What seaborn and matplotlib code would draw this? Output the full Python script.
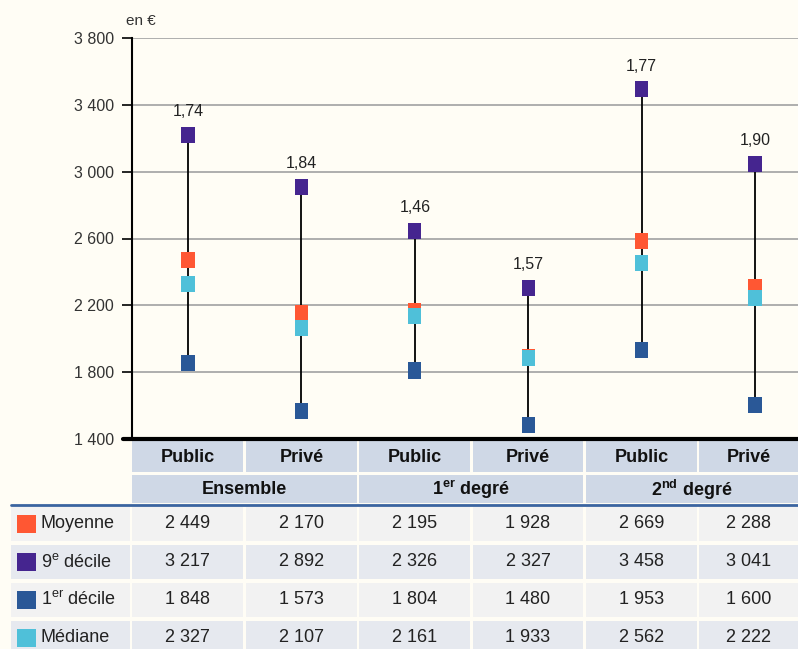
import matplotlib
matplotlib.use("Agg")
import matplotlib.pyplot as plt
import seaborn as sns
import pandas as pd
from matplotlib.patches import Rectangle

# ---- data ----
groups = ["Ensemble", "1$^{\\mathbf{er}}$ degré", "2$^{\\mathbf{nd}}$ degré"]
sectors = ["Public", "Privé", "Public", "Privé", "Public", "Privé"]
series = ["Moyenne", "9$^{\\mathrm{e}}$ décile", "1$^{\\mathrm{er}}$ décile", "Médiane"]

# table values (as printed under the chart)
moyenne = [2449, 2170, 2195, 1928, 2669, 2288]
decile9 = [3217, 2892, 2326, 2327, 3458, 3041]
decile1 = [1848, 1573, 1804, 1480, 1953, 1600]
mediane = [2327, 2107, 2161, 1933, 2562, 2222]

# positions as drawn in the chart (they differ a little from the table)
moyenne_plot = [2473, 2153, 2168, 1889, 2587, 2310]
decile9_plot = [3221, 2910, 2647, 2306, 3496, 3048]
decile1_plot = [1857, 1570, 1810, 1486, 1935, 1606]
mediane_plot = [2330, 2066, 2138, 1887, 2455, 2246]
ratios = ["1,74", "1,84", "1,46", "1,57", "1,77", "1,90"]
yticks = [1400, 1800, 2200, 2600, 3000, 3400, 3800]

colors = {"Moyenne": "#FF5733", "9e": "#45258F", "1er": "#2A5897", "Médiane": "#4FC0D9"}
BG = "#FFFDF5"
HEAD = "#CFD8E6"
ROW_A = "#F2F2F2"
ROW_B = "#E6E9EF"

sns.set_theme(style="white")
plt.rcParams["font.family"] = ["Liberation Sans", "DejaVu Sans"]
plt.rcParams["mathtext.fontset"] = "custom"
plt.rcParams["mathtext.rm"] = "Liberation Sans"
plt.rcParams["mathtext.bf"] = "Liberation Sans:bold"

W, H = 798, 649
fig = plt.figure(figsize=(W / 100, H / 100), dpi=100, facecolor=BG)


def fx(px):
    return px / W


def fy(py):
    return 1 - py / H


def fmt(v):
    return f"{v:,}".replace(",", " ")


# ---- chart axes ----
ax = fig.add_axes([fx(132), fy(439), fx(798 - 132), (439 - 38) / H])
ax.set_facecolor(BG)
x = list(range(6))
ax.set_xlim(-0.494, 5.379)
ax.set_ylim(1400, 3800)

for y in yticks[1:]:
    ax.axhline(y, color="#A8A8A8", lw=1.3, zorder=0)

ax.vlines(x, decile1_plot, decile9_plot, color="black", lw=1.3, zorder=1)

df = pd.DataFrame({
    "x": x * 4,
    "y": decile9_plot + decile1_plot + moyenne_plot + mediane_plot,
    "s": ["9e"] * 6 + ["1er"] * 6 + ["Moyenne"] * 6 + ["Médiane"] * 6,
})
rect = [(-0.41, -0.5), (0.41, -0.5), (0.41, 0.5), (-0.41, 0.5), (-0.41, -0.5)]
sns.scatterplot(data=df, x="x", y="y", hue="s", palette=colors, marker=rect,
                s=135, linewidth=0, legend=False, ax=ax, zorder=3)

for xi, top, r in zip(x, decile9_plot, ratios):
    ax.annotate(r, (xi, top), xytext=(0, 11), textcoords="offset points",
                ha="center", va="bottom", fontsize=11.5, color="#222222")

ax.set_yticks(yticks)
ax.set_yticklabels([fmt(v) for v in yticks], fontsize=11.5, color="#333333")
ax.tick_params(axis="y", length=7, width=1.2, color="black", left=True, pad=6)
ax.set_xticks([])
ax.set_xlabel("")
ax.set_ylabel("")
for side in ["top", "right", "bottom"]:
    ax.spines[side].set_visible(False)
ax.spines["left"].set_color("black")
ax.spines["left"].set_linewidth(1.5)

fig.text(fx(126), fy(21), "en €", fontsize=11, color="#333333", va="center", ha="left")
fig.add_artist(plt.Line2D([fx(123), fx(798)], [fy(439), fy(439)], color="black", lw=3))

# ---- table ----
col_left = [132, 246, 359, 473, 586, 699]
col_right = [243, 357, 470, 583, 697, 798]
centers = [(l + r) / 2 for l, r in zip(col_left, col_right)]


def cell(x0, y0, x1, y1, color):
    fig.add_artist(Rectangle((fx(x0), fy(y1)), fx(x1 - x0), (y1 - y0) / H,
                             facecolor=color, edgecolor="none", transform=fig.transFigure))


# header row 1
for l, r, c, lab in zip(col_left, col_right, centers, sectors):
    cell(l, 441, r, 472, HEAD)
    fig.text(fx(c), fy(457), lab, fontsize=13, fontweight="bold", ha="center", va="center", color="#111111")

# header row 2 (groups)
for g, name in enumerate(groups):
    l = col_left[2 * g]
    r = col_right[2 * g + 1]
    cell(l, 475, r, 503, HEAD)
    fig.text(fx((l + r) / 2), fy(490), name, fontsize=13, fontweight="bold",
             ha="center", va="center", color="#111111")

fig.add_artist(plt.Line2D([fx(11), fx(798)], [fy(505), fy(505)], color="#3A64A0", lw=2))

rows = [moyenne, decile9, decile1, mediane]
row_keys = ["Moyenne", "9e", "1er", "Médiane"]
row_tops = [507, 545, 583, 621]
for i, (vals, lab, key, top) in enumerate(zip(rows, series, row_keys, row_tops)):
    bottom = min(top + 34, H)
    bg = ROW_A if i % 2 == 0 else ROW_B
    cell(11, top, 130, bottom, bg)
    for l, r in zip(col_left, col_right):
        cell(l, top, r, bottom, bg)
    mid = top + 17
    cell(17, mid - 9, 36, mid + 9, colors[key])
    fig.text(fx(41), fy(mid), lab, fontsize=13, ha="left", va="center", color="#222222")
    for c, v in zip(centers, vals):
        fig.text(fx(c), fy(mid), fmt(v), fontsize=13, ha="center", va="center", color="#222222")

fig.savefig("out.png", dpi=100, facecolor=BG)
